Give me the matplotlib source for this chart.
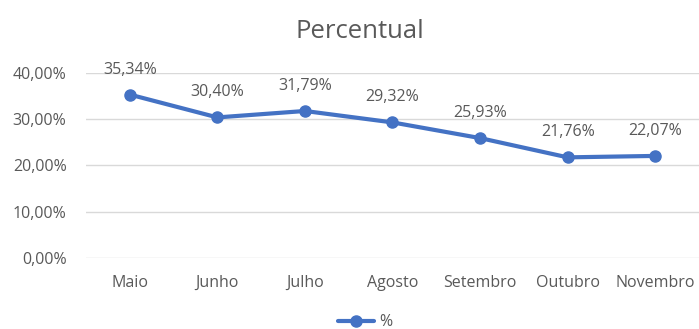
import matplotlib
matplotlib.use("Agg")
import matplotlib.pyplot as plt
from matplotlib.ticker import FuncFormatter

months = ["Maio", "Junho", "Julho", "Agosto", "Setembro", "Outubro", "Novembro"]
percent = [35.34, 30.40, 31.79, 29.32, 25.93, 21.76, 22.07]
y_ticks = [0, 10, 20, 30, 40]

plt.rcParams["font.family"] = ["Open Sans", "DejaVu Sans"]
text_gray = "#595959"
line_blue = "#4472C4"


def br_pct(v, _pos=None):
    return f"{v:.2f}".replace(".", ",") + "%"


fig = plt.figure(figsize=(6.99, 3.29), dpi=100)
ax = fig.add_axes([0.123, 0.216, 0.877, 0.562])

x = list(range(len(months)))
ax.plot(x, percent, color=line_blue, lw=3, marker="o", ms=8,
        solid_capstyle="round", label="%", zorder=3)

for xi, v in zip(x, percent):
    ax.annotate(br_pct(v), (xi, v), xytext=(0, 18), textcoords="offset points",
                ha="center", va="center", fontsize=11.5, color=text_gray)

ax.set_xlim(-0.5, len(months) - 0.5)
ax.set_ylim(0, 40)
ax.set_yticks(y_ticks)
ax.yaxis.set_major_formatter(FuncFormatter(br_pct))
ax.set_xticks(x)
ax.set_xticklabels(months)
ax.grid(axis="y", color="#D9D9D9", lw=1)
ax.set_axisbelow(True)
for s in ax.spines.values():
    s.set_visible(False)
ax.tick_params(axis="both", length=0, colors=text_gray, labelsize=11.5)
ax.tick_params(axis="x", pad=12)
ax.tick_params(axis="y", pad=14)

fig.text(0.515, 0.905, "Percentual", ha="center", va="center",
         fontsize=18.5, color=text_gray)

fig.legend(loc="center", bbox_to_anchor=(0.522, 0.02), frameon=False,
           fontsize=11.5, labelcolor=text_gray, handlelength=2.3,
           handletextpad=0.3)

fig.savefig("out.png", dpi=100)
